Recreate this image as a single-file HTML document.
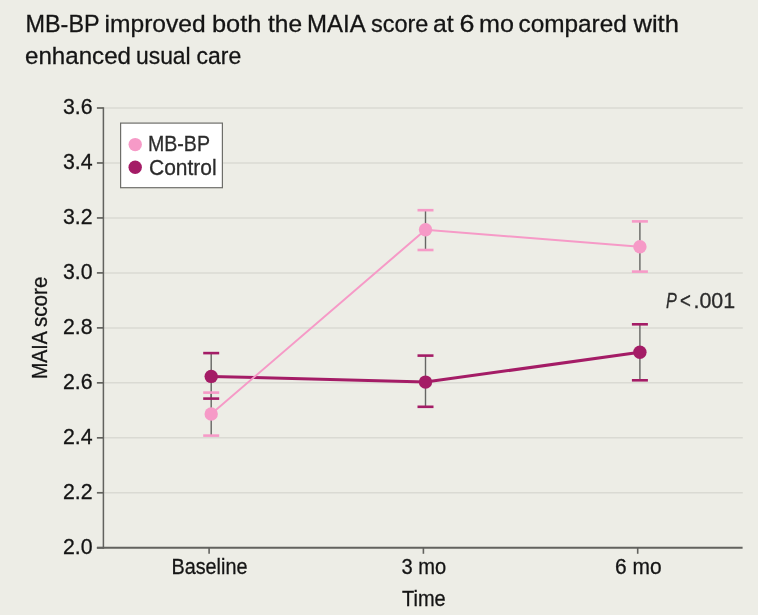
<!DOCTYPE html>
<html><head><meta charset="utf-8"><title>MAIA score</title>
<style>
html,body{margin:0;padding:0;background:#EDEDE6;}
body{width:758px;height:615px;overflow:hidden;}
svg{display:block;}
</style></head>
<body>
<svg width="758" height="615" viewBox="0 0 758 615">
<rect width="758" height="615" fill="#EDEDE6"/>
<line x1="104" y1="108.00" x2="742.8" y2="108.00" stroke="#DADAD3" stroke-width="1.5"/>
<line x1="104" y1="162.97" x2="742.8" y2="162.97" stroke="#DADAD3" stroke-width="1.5"/>
<line x1="104" y1="217.94" x2="742.8" y2="217.94" stroke="#DADAD3" stroke-width="1.5"/>
<line x1="104" y1="272.91" x2="742.8" y2="272.91" stroke="#DADAD3" stroke-width="1.5"/>
<line x1="104" y1="327.88" x2="742.8" y2="327.88" stroke="#DADAD3" stroke-width="1.5"/>
<line x1="104" y1="382.85" x2="742.8" y2="382.85" stroke="#DADAD3" stroke-width="1.5"/>
<line x1="104" y1="437.82" x2="742.8" y2="437.82" stroke="#DADAD3" stroke-width="1.5"/>
<line x1="104" y1="492.79" x2="742.8" y2="492.79" stroke="#DADAD3" stroke-width="1.5"/>
<line x1="103.4" y1="107.2" x2="103.4" y2="548.7" stroke="#62625E" stroke-width="1.5"/>
<line x1="96.9" y1="547.8" x2="742.6" y2="547.8" stroke="#62625E" stroke-width="1.9"/>
<line x1="96.9" y1="108.00" x2="103.4" y2="108.00" stroke="#62625E" stroke-width="1.7"/>
<line x1="96.9" y1="162.97" x2="103.4" y2="162.97" stroke="#62625E" stroke-width="1.7"/>
<line x1="96.9" y1="217.94" x2="103.4" y2="217.94" stroke="#62625E" stroke-width="1.7"/>
<line x1="96.9" y1="272.91" x2="103.4" y2="272.91" stroke="#62625E" stroke-width="1.7"/>
<line x1="96.9" y1="327.88" x2="103.4" y2="327.88" stroke="#62625E" stroke-width="1.7"/>
<line x1="96.9" y1="382.85" x2="103.4" y2="382.85" stroke="#62625E" stroke-width="1.7"/>
<line x1="96.9" y1="437.82" x2="103.4" y2="437.82" stroke="#62625E" stroke-width="1.7"/>
<line x1="96.9" y1="492.79" x2="103.4" y2="492.79" stroke="#62625E" stroke-width="1.7"/>
<line x1="96.9" y1="547.76" x2="103.4" y2="547.76" stroke="#62625E" stroke-width="1.7"/>
<line x1="209.1" y1="547.8" x2="209.1" y2="553.8" stroke="#62625E" stroke-width="1.6"/>
<line x1="423.4" y1="547.8" x2="423.4" y2="553.8" stroke="#62625E" stroke-width="1.6"/>
<line x1="637.7" y1="547.8" x2="637.7" y2="553.8" stroke="#62625E" stroke-width="1.6"/>
<line x1="211.2" y1="353.1" x2="211.2" y2="398.6" stroke="#666663" stroke-width="1.4"/>
<line x1="425.5" y1="355.6" x2="425.5" y2="406.8" stroke="#666663" stroke-width="1.4"/>
<line x1="639.9" y1="324.3" x2="639.9" y2="380.3" stroke="#666663" stroke-width="1.4"/>
<line x1="211.2" y1="392.6" x2="211.2" y2="435.6" stroke="#666663" stroke-width="1.4"/>
<line x1="425.5" y1="210.2" x2="425.5" y2="250.0" stroke="#666663" stroke-width="1.4"/>
<line x1="639.9" y1="221.4" x2="639.9" y2="271.6" stroke="#666663" stroke-width="1.4"/>
<line x1="203.2" y1="353.1" x2="219.2" y2="353.1" stroke="#A41C66" stroke-width="2.6"/>
<line x1="203.2" y1="398.6" x2="219.2" y2="398.6" stroke="#A41C66" stroke-width="2.6"/>
<line x1="417.5" y1="355.6" x2="433.5" y2="355.6" stroke="#A41C66" stroke-width="2.6"/>
<line x1="417.5" y1="406.8" x2="433.5" y2="406.8" stroke="#A41C66" stroke-width="2.6"/>
<line x1="631.9" y1="324.3" x2="647.9" y2="324.3" stroke="#A41C66" stroke-width="2.6"/>
<line x1="631.9" y1="380.3" x2="647.9" y2="380.3" stroke="#A41C66" stroke-width="2.6"/>
<line x1="203.2" y1="392.6" x2="219.2" y2="392.6" stroke="#F69AC7" stroke-width="2.6"/>
<line x1="203.2" y1="435.6" x2="219.2" y2="435.6" stroke="#F69AC7" stroke-width="2.6"/>
<line x1="417.5" y1="210.2" x2="433.5" y2="210.2" stroke="#F69AC7" stroke-width="2.6"/>
<line x1="417.5" y1="250.0" x2="433.5" y2="250.0" stroke="#F69AC7" stroke-width="2.6"/>
<line x1="631.9" y1="221.4" x2="647.9" y2="221.4" stroke="#F69AC7" stroke-width="2.6"/>
<line x1="631.9" y1="271.6" x2="647.9" y2="271.6" stroke="#F69AC7" stroke-width="2.6"/>
<polyline points="211.2,376.4 425.5,382.1 639.9,352.3" fill="none" stroke="#A41C66" stroke-width="3"/>
<circle cx="211.2" cy="376.4" r="6.7" fill="#A41C66"/>
<circle cx="425.5" cy="382.1" r="6.7" fill="#A41C66"/>
<circle cx="639.9" cy="352.3" r="6.7" fill="#A41C66"/>
<polyline points="211.2,414.0 425.5,229.8 639.9,246.7" fill="none" stroke="#F69AC7" stroke-width="2"/>
<circle cx="211.2" cy="414.0" r="6.7" fill="#F69AC7"/>
<circle cx="425.5" cy="229.8" r="6.7" fill="#F69AC7"/>
<circle cx="639.9" cy="246.7" r="6.7" fill="#F69AC7"/>
<rect x="120.6" y="123.1" width="101.8" height="64.6" fill="#FFFFFF" stroke="#6E6E6A" stroke-width="1.2"/>
<circle cx="135.2" cy="144.6" r="6.7" fill="#F69AC7"/>
<circle cx="135.2" cy="167.3" r="6.7" fill="#A41C66"/>
<text x="25.50" y="32.10" font-size="24.5" font-family="'Liberation Sans', sans-serif" fill="#141414" textLength="74.08" lengthAdjust="spacingAndGlyphs" stroke="#141414" stroke-width="0.3" paint-order="stroke">MB-BP</text>
<text x="104.50" y="32.10" font-size="24.5" font-family="'Liberation Sans', sans-serif" fill="#141414" textLength="101.18" lengthAdjust="spacingAndGlyphs" stroke="#141414" stroke-width="0.3" paint-order="stroke">improved</text>
<text x="212.00" y="32.10" font-size="24.5" font-family="'Liberation Sans', sans-serif" fill="#141414" textLength="49.38" lengthAdjust="spacingAndGlyphs" stroke="#141414" stroke-width="0.3" paint-order="stroke">both</text>
<text x="268.00" y="32.10" font-size="24.5" font-family="'Liberation Sans', sans-serif" fill="#141414" textLength="34.08" lengthAdjust="spacingAndGlyphs" stroke="#141414" stroke-width="0.3" paint-order="stroke">the</text>
<text x="307.00" y="32.10" font-size="24.5" font-family="'Liberation Sans', sans-serif" fill="#141414" textLength="58.69" lengthAdjust="spacingAndGlyphs" stroke="#141414" stroke-width="0.3" paint-order="stroke">MAIA</text>
<text x="371.00" y="32.10" font-size="24.5" font-family="'Liberation Sans', sans-serif" fill="#141414" textLength="57.32" lengthAdjust="spacingAndGlyphs" stroke="#141414" stroke-width="0.3" paint-order="stroke">score</text>
<text x="433.00" y="32.10" font-size="24.5" font-family="'Liberation Sans', sans-serif" fill="#141414" textLength="20.67" lengthAdjust="spacingAndGlyphs" stroke="#141414" stroke-width="0.3" paint-order="stroke">at</text>
<text x="459.50" y="32.10" font-size="24.5" font-family="'Liberation Sans', sans-serif" fill="#141414" textLength="14.97" lengthAdjust="spacingAndGlyphs" stroke="#141414" stroke-width="0.3" paint-order="stroke">6</text>
<text x="479.00" y="32.10" font-size="24.5" font-family="'Liberation Sans', sans-serif" fill="#141414" textLength="34.91" lengthAdjust="spacingAndGlyphs" stroke="#141414" stroke-width="0.3" paint-order="stroke">mo</text>
<text x="518.50" y="32.10" font-size="24.5" font-family="'Liberation Sans', sans-serif" fill="#141414" textLength="108.34" lengthAdjust="spacingAndGlyphs" stroke="#141414" stroke-width="0.3" paint-order="stroke">compared</text>
<text x="633.50" y="32.10" font-size="24.5" font-family="'Liberation Sans', sans-serif" fill="#141414" textLength="45.43" lengthAdjust="spacingAndGlyphs" stroke="#141414" stroke-width="0.3" paint-order="stroke">with</text>
<text x="25.00" y="63.90" font-size="24.5" font-family="'Liberation Sans', sans-serif" fill="#141414" textLength="106.01" lengthAdjust="spacingAndGlyphs" stroke="#141414" stroke-width="0.3" paint-order="stroke">enhanced</text>
<text x="136.00" y="63.90" font-size="24.5" font-family="'Liberation Sans', sans-serif" fill="#141414" textLength="54.63" lengthAdjust="spacingAndGlyphs" stroke="#141414" stroke-width="0.3" paint-order="stroke">usual</text>
<text x="196.50" y="63.90" font-size="24.5" font-family="'Liberation Sans', sans-serif" fill="#141414" textLength="44.65" lengthAdjust="spacingAndGlyphs" stroke="#141414" stroke-width="0.3" paint-order="stroke">care</text>
<text x="63.00" y="114.30" font-size="22.5" font-family="'Liberation Sans', sans-serif" fill="#141414" textLength="29.58" lengthAdjust="spacingAndGlyphs" stroke="#141414" stroke-width="0.3" paint-order="stroke">3.6</text>
<text x="63.00" y="169.27" font-size="22.5" font-family="'Liberation Sans', sans-serif" fill="#141414" textLength="29.65" lengthAdjust="spacingAndGlyphs" stroke="#141414" stroke-width="0.3" paint-order="stroke">3.4</text>
<text x="63.00" y="224.24" font-size="22.5" font-family="'Liberation Sans', sans-serif" fill="#141414" textLength="29.58" lengthAdjust="spacingAndGlyphs" stroke="#141414" stroke-width="0.3" paint-order="stroke">3.2</text>
<text x="63.00" y="279.21" font-size="22.5" font-family="'Liberation Sans', sans-serif" fill="#141414" textLength="29.58" lengthAdjust="spacingAndGlyphs" stroke="#141414" stroke-width="0.3" paint-order="stroke">3.0</text>
<text x="63.00" y="334.18" font-size="22.5" font-family="'Liberation Sans', sans-serif" fill="#141414" textLength="29.58" lengthAdjust="spacingAndGlyphs" stroke="#141414" stroke-width="0.3" paint-order="stroke">2.8</text>
<text x="63.00" y="389.15" font-size="22.5" font-family="'Liberation Sans', sans-serif" fill="#141414" textLength="29.58" lengthAdjust="spacingAndGlyphs" stroke="#141414" stroke-width="0.3" paint-order="stroke">2.6</text>
<text x="63.00" y="444.12" font-size="22.5" font-family="'Liberation Sans', sans-serif" fill="#141414" textLength="29.65" lengthAdjust="spacingAndGlyphs" stroke="#141414" stroke-width="0.3" paint-order="stroke">2.4</text>
<text x="63.00" y="499.09" font-size="22.5" font-family="'Liberation Sans', sans-serif" fill="#141414" textLength="29.58" lengthAdjust="spacingAndGlyphs" stroke="#141414" stroke-width="0.3" paint-order="stroke">2.2</text>
<text x="63.00" y="554.06" font-size="22.5" font-family="'Liberation Sans', sans-serif" fill="#141414" textLength="29.58" lengthAdjust="spacingAndGlyphs" stroke="#141414" stroke-width="0.3" paint-order="stroke">2.0</text>
<text x="171.50" y="574.20" font-size="22.5" font-family="'Liberation Sans', sans-serif" fill="#141414" textLength="75.93" lengthAdjust="spacingAndGlyphs" stroke="#141414" stroke-width="0.3" paint-order="stroke">Baseline</text>
<text x="401.50" y="574.10" font-size="22.5" font-family="'Liberation Sans', sans-serif" fill="#141414" textLength="44.65" lengthAdjust="spacingAndGlyphs" stroke="#141414" stroke-width="0.3" paint-order="stroke">3 mo</text>
<text x="615.00" y="574.10" font-size="22.5" font-family="'Liberation Sans', sans-serif" fill="#141414" textLength="46.58" lengthAdjust="spacingAndGlyphs" stroke="#141414" stroke-width="0.3" paint-order="stroke">6 mo</text>
<text x="402.00" y="605.90" font-size="22.5" font-family="'Liberation Sans', sans-serif" fill="#141414" textLength="43.64" lengthAdjust="spacingAndGlyphs" stroke="#141414" stroke-width="0.3" paint-order="stroke">Time</text>
<text transform="translate(46.60 379.00) rotate(-90)" x="0" y="0" font-size="22.5" font-family="'Liberation Sans', sans-serif" fill="#141414" textLength="47.71" lengthAdjust="spacingAndGlyphs" stroke="#141414" stroke-width="0.3" paint-order="stroke">MAIA</text>
<text transform="translate(46.60 327.00) rotate(-90)" x="0" y="0" font-size="22.5" font-family="'Liberation Sans', sans-serif" fill="#141414" textLength="50.37" lengthAdjust="spacingAndGlyphs" stroke="#141414" stroke-width="0.3" paint-order="stroke">score</text>
<text x="148.00" y="151.10" font-size="22.5" font-family="'Liberation Sans', sans-serif" fill="#2B2B2B" textLength="61.98" lengthAdjust="spacingAndGlyphs" stroke="#2B2B2B" stroke-width="0.3" paint-order="stroke">MB-BP</text>
<text x="149.00" y="174.90" font-size="22.5" font-family="'Liberation Sans', sans-serif" fill="#2B2B2B" textLength="67.65" lengthAdjust="spacingAndGlyphs" stroke="#2B2B2B" stroke-width="0.3" paint-order="stroke">Control</text>
<text x="666.00" y="307.70" font-size="22.5" font-family="'Liberation Sans', sans-serif" fill="#2B2B2B" textLength="10.81" lengthAdjust="spacingAndGlyphs" font-style="italic" stroke="#2B2B2B" stroke-width="0.3" paint-order="stroke">P</text>
<text x="680.00" y="307.70" font-size="22.5" font-family="'Liberation Sans', sans-serif" fill="#2B2B2B" textLength="10.89" lengthAdjust="spacingAndGlyphs" stroke="#2B2B2B" stroke-width="0.3" paint-order="stroke">&lt;</text>
<text x="693.50" y="307.70" font-size="22.5" font-family="'Liberation Sans', sans-serif" fill="#2B2B2B" textLength="41.67" lengthAdjust="spacingAndGlyphs" stroke="#2B2B2B" stroke-width="0.3" paint-order="stroke">.001</text>
</svg>
</body></html>
